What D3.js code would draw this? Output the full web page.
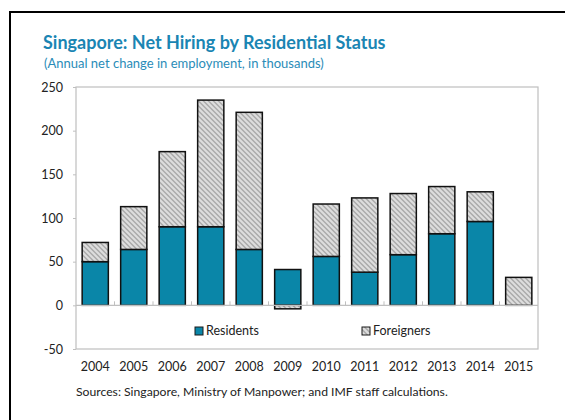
<!DOCTYPE html>
<html>
<head>
<meta charset="utf-8">
<script src="https://cdn.jsdelivr.net/npm/d3@7"></script>
<style>
  body { margin: 0; background: #fff; }
  text { font-family: Lato, "Noto Sans", sans-serif; }
</style>
</head>
<body>
<svg id="chart" width="565" height="420"></svg>
<script>
// data (thousands)
const years = ["2004","2005","2006","2007","2008","2009","2010","2011","2012","2013","2014","2015"];
const residents = [50, 64, 90, 90, 64, 41, 56, 38, 58, 82, 96, 0];
const foreigners = [22, 49, 86, 145, 157, -4, 60, 85, 70, 54, 34, 32];
const yTicks = [-50, 0, 50, 100, 150, 200, 250];

const TEAL = "#0a86a8";
const svg = d3.select("#chart");

// outer frame (only top and left visible)
svg.append("rect")
    .attr("x", 10).attr("y", 12)
    .attr("width", 700).attr("height", 600)
    .attr("fill", "none").attr("stroke", "#000").attr("stroke-width", 2);

// hatch pattern for foreigners
const defs = svg.append("defs");
const pat = defs.append("pattern")
    .attr("id", "hatch")
    .attr("patternUnits", "userSpaceOnUse")
    .attr("width", 5).attr("height", 5);
pat.append("rect").attr("width", 5).attr("height", 5).attr("fill", "#ababab");
pat.append("path")
    .attr("d", "M-1,-1 L6,6 M-1,4 L1,6 M4,-1 L6,1")
    .attr("stroke", "#dedede").attr("stroke-width", 2);

// titles
svg.append("text")
    .attr("x", 43).attr("y", 49)
    .attr("fill", "#1a85b3")
    .attr("font-size", 18).attr("font-weight", "bold")
    .text("Singapore: Net Hiring by Residential Status");
svg.append("text")
    .attr("x", 44).attr("y", 68)
    .attr("fill", "#2a8cb8")
    .attr("font-size", 13)
    .text("(Annual net change in employment, in thousands)");

const margin = {left: 76, right: 538, top: 87, bottom: 349};

const x = d3.scaleBand().domain(years).range([margin.left, margin.right]).paddingInner(0.32).paddingOuter(0.16);
const y = d3.scaleLinear().domain([-50, 250]).range([margin.bottom, margin.top]);

// plot border
svg.append("rect")
    .attr("x", margin.left).attr("y", margin.top)
    .attr("width", margin.right - margin.left).attr("height", margin.bottom - margin.top)
    .attr("fill", "none").attr("stroke", "#bfbfbf").attr("stroke-width", 1.2);

// y axis
const yAxis = svg.append("g")
    .attr("transform", `translate(${margin.left},0)`)
    .call(d3.axisLeft(y).tickValues(yTicks).tickSize(3).tickPadding(10).tickFormat(d => String(d)));
yAxis.select(".domain").remove();
yAxis.selectAll("line").attr("stroke", "#bfbfbf");
yAxis.selectAll("text").attr("font-size", 12.5).attr("fill", "#222").attr("font-family", "Lato, sans-serif");

// stacked bars
const rows = years.map((yr, i) => ({year: yr, residents: residents[i], foreigners: foreigners[i]}));
const series = d3.stack().keys(["residents", "foreigners"]).offset(d3.stackOffsetDiverging)(rows);
const fills = {residents: TEAL, foreigners: "url(#hatch)"};

svg.append("g").selectAll("g")
    .data(series)
    .join("g")
    .attr("fill", d => fills[d.key])
    .selectAll("rect")
    .data(d => d.filter(v => v[1] !== v[0]))
    .join("rect")
    .attr("x", d => x(d.data.year))
    .attr("width", x.bandwidth())
    .attr("y", d => y(Math.max(d[0], d[1])))
    .attr("height", d => Math.abs(y(d[0]) - y(d[1])))
    .attr("stroke", "#111").attr("stroke-width", 1.5);

// zero line with category ticks
svg.append("line")
    .attr("x1", margin.left).attr("x2", margin.right)
    .attr("y1", y(0)).attr("y2", y(0))
    .attr("stroke", "#bfbfbf").attr("stroke-width", 1.2);
const step = x.step();
svg.append("g").selectAll("line")
    .data(years.slice(1))
    .join("line")
    .attr("x1", d => x(d) - step * x.paddingInner() / 2)
    .attr("x2", d => x(d) - step * x.paddingInner() / 2)
    .attr("y1", y(0)).attr("y2", y(0) - 4)
    .attr("stroke", "#bfbfbf");

// x labels
svg.append("g").selectAll("text")
    .data(years)
    .join("text")
    .attr("x", d => x(d) + x.bandwidth() / 2)
    .attr("y", 371)
    .attr("text-anchor", "middle")
    .attr("font-size", 12.5).attr("fill", "#222")
    .text(d => d);

// legend
const legend = [
  {name: "Residents", fill: TEAL, x: 195},
  {name: "Foreigners", fill: "url(#hatch)", x: 362}
];
const lg = svg.append("g").selectAll("g").data(legend).join("g")
    .attr("transform", d => `translate(${d.x},327)`);
lg.append("rect").attr("width", 8).attr("height", 8)
    .attr("fill", d => d.fill).attr("stroke", "#1a1a1a").attr("stroke-width", 1);
lg.append("text").attr("x", 11).attr("y", 8)
    .attr("font-size", 12.5).attr("fill", "#222")
    .text(d => d.name);

// source note
svg.append("text")
    .attr("x", 76).attr("y", 396)
    .attr("font-size", 12.2).attr("fill", "#222")
    .text("Sources: Singapore, Ministry of Manpower; and IMF staff calculations.");
</script>
</body>
</html>
